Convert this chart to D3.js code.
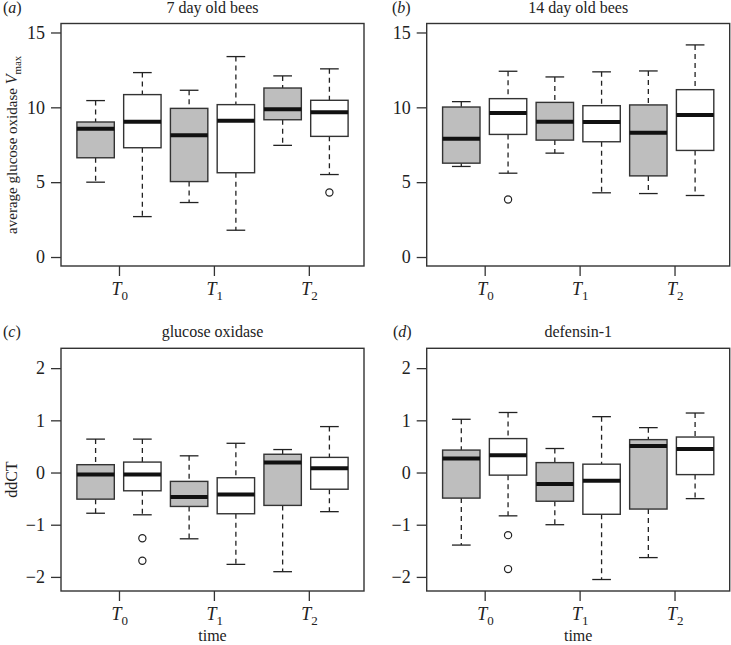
<!DOCTYPE html>
<html><head><meta charset="utf-8">
<script src="https://cdn.jsdelivr.net/npm/d3@7"></script>
<style>
body{margin:0;background:#fff}
text{font-family:"Liberation Serif","Times New Roman",serif;fill:#222}
</style>
</head><body>
<svg id="chart" width="731" height="645"></svg>
<script>
// ---------- data ----------
const timeLabels = ["0", "1", "2"];
const timeTickPos = [1.5, 3.53, 5.56];
const boxPositions = [1, 2, 3, 4, 5, 6];
const boxFills = ["#bebebe", "#ffffff", "#bebebe", "#ffffff", "#bebebe", "#ffffff"];
const vmaxTicks = [0, 5, 10, 15];
const ddctTicks = [-2, -1, 0, 1, 2];

// each box: [lower whisker, Q1, median, Q3, upper whisker]
const vmax7 = [
  [5.00, 6.63, 8.57, 9.02, 10.45],
  [2.70, 7.30, 9.04, 10.85, 12.32],
  [3.64, 5.04, 8.13, 9.93, 11.14],
  [1.79, 5.63, 9.11, 10.18, 13.39],
  [7.46, 9.17, 9.87, 11.29, 12.10],
  [5.51, 8.06, 9.67, 10.47, 12.57]
];
const vmax7Out = [[], [], [], [], [], [4.31]];

const vmax14 = [
  [6.05, 6.27, 7.90, 10.02, 10.38],
  [5.60, 8.19, 9.62, 10.58, 12.41],
  [6.94, 7.81, 9.04, 10.33, 12.03],
  [4.29, 7.70, 9.02, 10.11, 12.37],
  [4.24, 5.42, 8.30, 10.16, 12.43],
  [4.11, 7.12, 9.49, 11.18, 14.17]
];
const vmax14Out = [[], [3.84], [], [], [], []];

const gox = [
  [-0.78, -0.51, -0.04, 0.15, 0.64],
  [-0.81, -0.35, -0.04, 0.20, 0.64],
  [-1.27, -0.65, -0.47, -0.17, 0.32],
  [-1.76, -0.79, -0.42, -0.10, 0.56],
  [-1.90, -0.63, 0.19, 0.35, 0.44],
  [-0.75, -0.32, 0.08, 0.29, 0.88]
];
const goxOut = [[], [-1.26, -1.69], [], [], [], []];

const def1 = [
  [-1.39, -0.49, 0.27, 0.43, 1.02],
  [-0.83, -0.05, 0.33, 0.65, 1.15],
  [-1.00, -0.55, -0.22, 0.19, 0.46],
  [-2.05, -0.80, -0.16, 0.16, 1.07],
  [-1.63, -0.70, 0.51, 0.63, 0.86],
  [-0.50, -0.04, 0.45, 0.68, 1.14]
];
const def1Out = [[], [-1.20, -1.85], [], [], [], []];

// ---------- layout ----------
const panels = [
  {letter: "a", title: "7 day old bees", stats: vmax7, outs: vmax7Out, dom: [-0.6, 15.6], ticks: vmaxTicks,
   x0: 61, x1: 364, y0: 23.5, y1: 266, letterX: 3, ylab: "vmax", time: false},
  {letter: "b", title: "14 day old bees", stats: vmax14, outs: vmax14Out, dom: [-0.6, 15.6], ticks: vmaxTicks,
   x0: 426.7, x1: 729.7, y0: 23.5, y1: 266, letterX: 392, ylab: null, time: false},
  {letter: "c", title: "glucose oxidase", stats: gox, outs: goxOut, dom: [-2.27, 2.38], ticks: ddctTicks,
   x0: 61, x1: 364, y0: 348.3, y1: 591, letterX: 3, ylab: "ddCT", time: true},
  {letter: "d", title: "defensin-1", stats: def1, outs: def1Out, dom: [-2.27, 2.38], ticks: ddctTicks,
   x0: 426.7, x1: 729.7, y0: 348.3, y1: 591, letterX: 393, ylab: null, time: true}
];

const svg = d3.select("#chart");
const fmt = v => (v < 0 ? "\u2212" + Math.abs(v) : String(v));

panels.forEach(p => {
  const g = svg.append("g");
  const x = d3.scaleLinear().domain([0.26, 6.74]).range([p.x0, p.x1]);
  const y = d3.scaleLinear().domain(p.dom).range([p.y1, p.y0]);
  const bw = 0.8;

  // y axis
  const ya = g.append("g").attr("transform", `translate(${p.x0},0)`)
    .call(d3.axisLeft(y).tickValues(p.ticks).tickSize(10).tickPadding(6).tickFormat(fmt));
  ya.select(".domain").remove();
  ya.selectAll("line").attr("stroke", "#333").attr("stroke-width", 1.3);
  ya.selectAll("text").attr("font-size", 18).attr("fill", "#222")
    .attr("font-family", "'Liberation Serif',serif");

  // x axis
  const xa = g.append("g").attr("transform", `translate(0,${p.y1})`)
    .call(d3.axisBottom(x).tickValues(timeTickPos).tickSize(10).tickFormat(""));
  xa.select(".domain").remove();
  xa.selectAll("line").attr("stroke", "#333").attr("stroke-width", 1.3);
  timeTickPos.forEach((t, i) => {
    const tx = g.append("text").attr("x", x(t) - 7.5).attr("y", p.y1 + 28.5)
      .attr("font-size", 18);
    tx.append("tspan").attr("font-style", "italic").text("T");
    tx.append("tspan").attr("font-size", 13).attr("dy", 5).text(timeLabels[i]);
  });

  // boxes
  p.stats.forEach((s, i) => {
    const c = boxPositions[i];
    const [lo, q1, md, q3, hi] = s;
    const xl = x(c - bw / 2), xr = x(c + bw / 2), xm = x(c);
    const cl = x(c - bw / 4), cr = x(c + bw / 4);
    // whiskers
    g.append("line").attr("x1", xm).attr("x2", xm).attr("y1", y(hi)).attr("y2", y(q3))
      .attr("stroke", "#222").attr("stroke-width", 1.3).attr("stroke-dasharray", "5,4");
    g.append("line").attr("x1", xm).attr("x2", xm).attr("y1", y(q1)).attr("y2", y(lo))
      .attr("stroke", "#222").attr("stroke-width", 1.3).attr("stroke-dasharray", "5,4");
    g.append("line").attr("x1", cl).attr("x2", cr).attr("y1", y(hi)).attr("y2", y(hi))
      .attr("stroke", "#222").attr("stroke-width", 1.3);
    g.append("line").attr("x1", cl).attr("x2", cr).attr("y1", y(lo)).attr("y2", y(lo))
      .attr("stroke", "#222").attr("stroke-width", 1.3);
    // box
    g.append("rect").attr("x", xl).attr("y", y(q3)).attr("width", xr - xl).attr("height", y(q1) - y(q3))
      .attr("fill", boxFills[i]).attr("stroke", "#333").attr("stroke-width", 1.4);
    // median
    g.append("line").attr("x1", xl).attr("x2", xr).attr("y1", y(md)).attr("y2", y(md))
      .attr("stroke", "#111").attr("stroke-width", 4);
    // outliers
    p.outs[i].forEach(o => {
      g.append("circle").attr("cx", xm).attr("cy", y(o)).attr("r", 3.6)
        .attr("fill", "none").attr("stroke", "#222").attr("stroke-width", 1.2);
    });
  });

  // frame
  g.append("rect").attr("x", p.x0).attr("y", p.y0).attr("width", p.x1 - p.x0).attr("height", p.y1 - p.y0)
    .attr("fill", "none").attr("stroke", "#333").attr("stroke-width", 1.4);

  // title
  g.append("text").attr("x", (p.x0 + p.x1) / 2).attr("y", p.y0 - 11).attr("text-anchor", "middle")
    .attr("font-size", 16).text(p.title);
  const lt = g.append("text").attr("x", p.letterX).attr("y", p.y0 - 11).attr("font-size", 16);
  lt.append("tspan").text("(");
  lt.append("tspan").attr("font-style", "italic").text(p.letter);
  lt.append("tspan").text(")");

  // y label
  if (p.ylab === "vmax") {
    const yl = g.append("text").attr("transform", `translate(17,${(p.y0 + p.y1) / 2}) rotate(-90)`)
      .attr("text-anchor", "middle").attr("font-size", 15);
    yl.append("tspan").text("average glucose oxidase ");
    yl.append("tspan").attr("font-style", "italic").attr("font-size", 16).text("V");
    yl.append("tspan").attr("font-size", 11).attr("dy", 4).text("max");
  } else if (p.ylab) {
    g.append("text").attr("transform", `translate(17,${(p.y0 + p.y1) / 2 + 10}) rotate(-90)`)
      .attr("text-anchor", "middle").attr("font-size", 16).text(p.ylab);
  }
  if (p.time) {
    g.append("text").attr("x", (p.x0 + p.x1) / 2).attr("y", p.y1 + 50).attr("text-anchor", "middle")
      .attr("font-size", 16).text("time");
  }
});
</script>
</body></html>
